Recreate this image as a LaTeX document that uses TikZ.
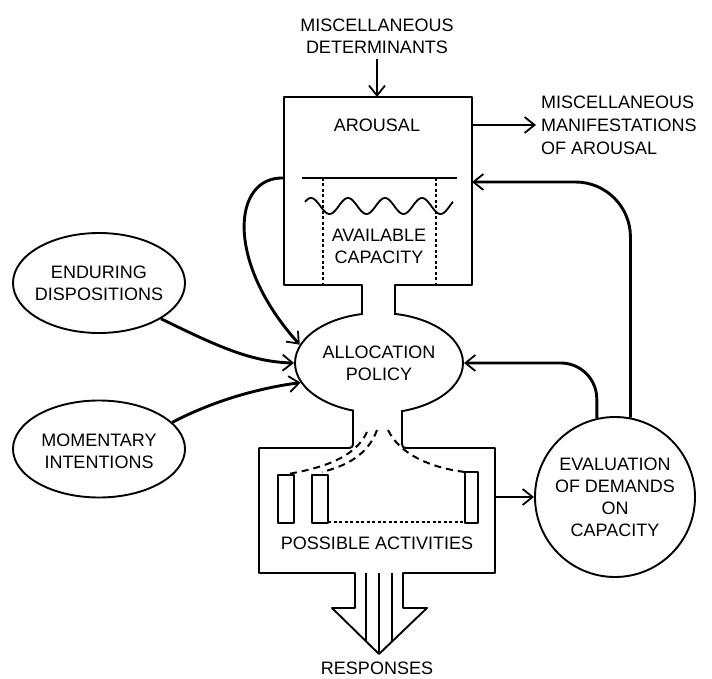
\documentclass[tikz,border=0pt]{standalone}
\usepackage{fontspec}
\setmainfont{Liberation Sans}
\usepackage{tikz}
\usetikzlibrary{positioning, arrows.meta, calc, shapes.geometric}

\begin{document}
\begin{tikzpicture}[x=1pt, y=-1pt,
  lbl/.style={font=\fontsize{18}{22}\selectfont, align=center, inner sep=0pt},
  outl/.style={line width=1.9pt, line join=round},
  arr/.style={line width=2.9pt, -{Straight Barb[length=10pt, width=16pt, line width=1.8pt]}},
  dsh/.style={line width=2pt, dash pattern=on 7pt off 5pt},
  dots/.style={line width=1.5pt, dash pattern=on 3pt off 2.5pt}]
\useasboundingbox (0,0) rectangle (712,679);

% allocation policy and the two necks
\node[ellipse, draw, outl, lbl, minimum width=168pt, minimum height=100pt] (alloc) at (379,363) {ALLOCATION\\POLICY};
\fill[white] (363.2,287) rectangle (393.8,317);
\fill[white] (354.2,408) rectangle (400.8,447);

% arousal box
\draw[outl] (362,314) -- (362,285) -- (284,285) -- (284,97) -- (472,97) -- (472,285) -- (395,285) -- (395,314.5);
\node[lbl] (arousal) at (377,125) {AROUSAL};
\draw[line width=1.7pt] (302,178) -- (457,178);
\draw[dots] (323,178) -- (323,285);
\draw[dots] (436,178) -- (436,285);
\draw[line width=1.8pt] plot[domain=305:453, samples=120, smooth] (\x, {206-8*cos(9.7297*(\x-311))});
\node[lbl] (capacity) at (379,246) {AVAILABLE\\CAPACITY};

% possible activities box with the response arrow
\draw[outl] (353,410.5) -- (353,440) .. controls (353,448) .. (345,448) -- (259,448) -- (259,573)
  -- (355,573) -- (355,608) -- (332,608) -- (379,654) -- (427,608) -- (403,608) -- (403,573)
  -- (495,573) -- (495,448) -- (410,448) .. controls (402,448) .. (402,440) -- (402,411);
\draw[line width=1.4pt] (366,573) -- (366,641.5);
\draw[line width=1.4pt] (379,573) -- (379,654);
\draw[line width=1.4pt] (392,573) -- (392,641.5);
\draw[outl] (278,475) rectangle (294,523);
\draw[outl] (312,475) rectangle (328,523);
\draw[outl] (465,472) rectangle (478,523);
\draw[dots] (328,522) -- (465,522);
\draw[dsh] (367,432) .. controls (355,458) and (322,468) .. (288,474);
\draw[dsh] (377,430) .. controls (368,455) and (346,466) .. (322,472);
\draw[dsh] (388,430) .. controls (400,455) and (432,468) .. (465,472);
\node[lbl] (activities) at (377,543) {POSSIBLE ACTIVITIES};
\node[lbl] (responses) at (377,668) {RESPONSES};

% outside nodes
\node[lbl, inner sep=5pt] (determinants) at (377,36) {MISCELLANEOUS\\DETERMINANTS};
\node[lbl, inner sep=5pt, anchor=west, font=\fontsize{18}{23}\selectfont, align=left] (manifest) at (536,125) {MISCELLANEOUS\\MANIFESTATIONS\\OF AROUSAL};
\node[ellipse, draw, outl, minimum width=172pt, minimum height=100pt] (enduring) at (99,283) {};
\node[lbl] (enduringT) at (99,283) {ENDURING\\DISPOSITIONS};
\node[ellipse, draw, outl, minimum width=172pt, minimum height=97pt] (momentary) at (99,449) {};
\node[lbl] (momentaryT) at (99,451) {MOMENTARY\\INTENTIONS};
\node[circle, draw, outl, lbl, minimum size=160pt] (evaluation) at (615,497) {EVALUATION\\OF DEMANDS\\ON\\CAPACITY};

\coordinate (arousalN) at (377,97);
\coordinate (arousalR) at (472,125);
\coordinate (arousalE) at (472,182);
\coordinate (arousalW) at (284,178);
\coordinate (activitiesE) at (495,497);

% connectors
\draw[arr] (determinants) -- (arousalN);
\draw[arr] (arousalR) -- (manifest.west);
\draw[arr] (arousalW) .. controls (232,176) and (225,262) .. (alloc.167);
\draw[arr] (enduring.-30) .. controls (215,345) and (250,362) .. (alloc.west);
\draw[arr] (momentary.20) .. controls (215,400) and (260,388) .. (alloc.194);
\draw[arr, rounded corners=36pt] (evaluation.103) |- (alloc.east);
\draw[arr, rounded corners=55pt] (evaluation.79) |- (arousalE);
\draw[arr] (activitiesE) -- (evaluation.west);
\end{tikzpicture}
\end{document}
